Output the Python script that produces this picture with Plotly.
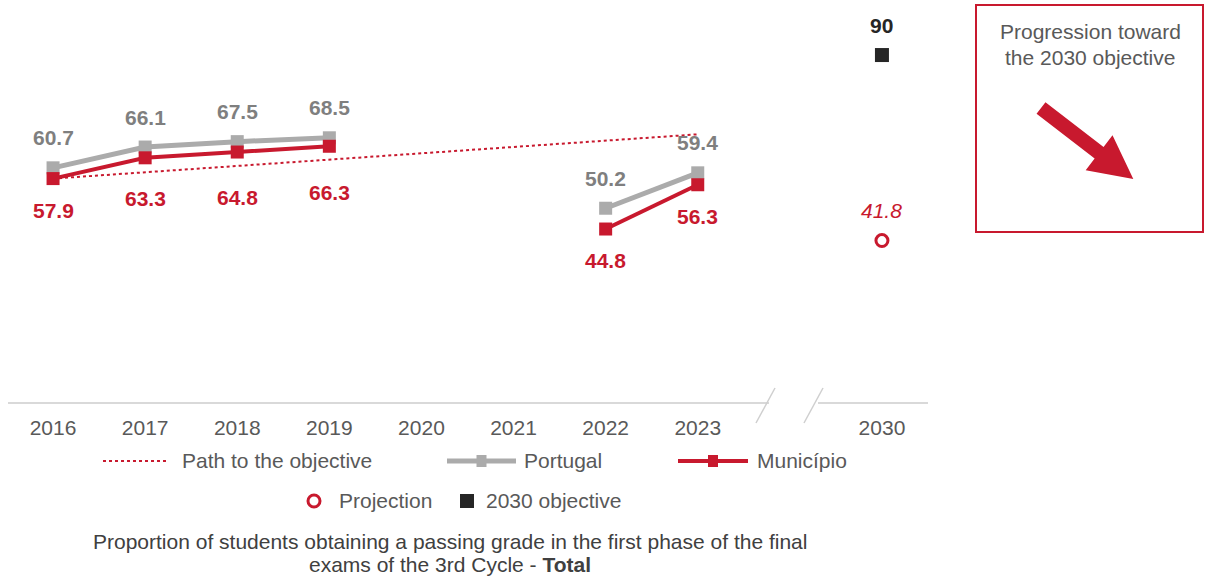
import math
import plotly.graph_objects as go

# ---------------- data ----------------
years = ["2016", "2017", "2018", "2019", "2020", "2021", "2022", "2023"]
x_categories = years + [" ", "2030"]
portugal = [60.7, 66.1, 67.5, 68.5, None, None, 50.2, 59.4]
municipio = [57.9, 63.3, 64.8, 66.3, None, None, 44.8, 56.3]
path_years = ["2016", "2023"]
path_values = [57.9, 69.4]
projection_year = ["2030"]
projection_value = [41.8]
objective_year = ["2030"]
objective_value = [90]

# label offsets (pixels, styling only)
municipio_label_shift = [-32, -41, -45, -46, None, None, -31, -32]

RED = "#C8192E"
GREY = "#ABABAB"
GREY_TXT = "#7F7F7F"
DARK = "#262626"
TXT = "#595959"
FONT = "Liberation Sans, Arial, sans-serif"
FS = 21

W, H = 1207, 580
L, R, T, B = 7, 279, 10, 177
PW, PH = W - L - R, H - T - B


def px(x):
    return (x - L) / PW


def py(y):
    return (H - B - y) / PH


def cat(yr):
    return x_categories.index(yr)


fig = go.Figure()

fig.add_trace(go.Scatter(
    x=path_years, y=path_values, mode="lines",
    line=dict(color=RED, width=2, dash="dot"), name="Path to the objective",
    showlegend=False, hoverinfo="skip"))
fig.add_trace(go.Scatter(
    x=years, y=portugal, mode="lines+markers", connectgaps=False,
    line=dict(color=GREY, width=5),
    marker=dict(symbol="square", size=13, color=GREY),
    name="Portugal", showlegend=False))
fig.add_trace(go.Scatter(
    x=years, y=municipio, mode="lines+markers", connectgaps=False,
    line=dict(color=RED, width=4),
    marker=dict(symbol="square", size=13, color=RED),
    name="Município", showlegend=False))
fig.add_trace(go.Scatter(
    x=projection_year, y=projection_value, mode="markers",
    marker=dict(symbol="circle-open", size=12, color=RED, line=dict(width=3)),
    name="Projection", showlegend=False))
fig.add_trace(go.Scatter(
    x=objective_year, y=objective_value, mode="markers",
    marker=dict(symbol="square", size=14, color=DARK),
    name="2030 objective", showlegend=False))

ann = []
for yr, v in zip(years, portugal):
    if v is None:
        continue
    ann.append(dict(x=cat(yr), y=v, xref="x", yref="y", text=f"{v:.1f}", showarrow=False,
                    yshift=30, font=dict(family=FONT, size=FS, color=GREY_TXT, weight="bold")))
for yr, v, s in zip(years, municipio, municipio_label_shift):
    if v is None:
        continue
    ann.append(dict(x=cat(yr), y=v, xref="x", yref="y", text=f"{v:.1f}", showarrow=False,
                    yshift=s, font=dict(family=FONT, size=FS, color=RED, weight="bold")))
for yr, v in zip(projection_year, projection_value):
    ann.append(dict(x=cat(yr), y=v, xref="x", yref="y", text=f"{v:.1f}", showarrow=False,
                    yshift=30, font=dict(family=FONT, size=FS, color=RED, style="italic")))
for yr, v in zip(objective_year, objective_value):
    ann.append(dict(x=cat(yr), y=v, xref="x", yref="y", text=f"{v}", showarrow=False,
                    yshift=30, font=dict(family=FONT, size=FS, color=DARK, weight="bold")))

shapes = []
AX = "#D9D9D9"
# axis line with break
shapes.append(dict(type="line", xref="paper", yref="paper", x0=px(8), x1=px(769),
                   y0=py(403), y1=py(403), line=dict(color=AX, width=2)))
shapes.append(dict(type="line", xref="paper", yref="paper", x0=px(818), x1=px(928),
                   y0=py(403), y1=py(403), line=dict(color=AX, width=2)))
for (a, b, c, d) in [(775, 388, 756, 423), (823, 388, 804, 423)]:
    shapes.append(dict(type="line", xref="paper", yref="paper", x0=px(a), y0=py(b),
                       x1=px(c), y1=py(d), line=dict(color="#CFCFCF", width=1.5)))

# ---- legend (drawn) ----
LEG_TXT = dict(family=FONT, size=FS, color=TXT)
y1 = 461
shapes.append(dict(type="line", xref="paper", yref="paper", x0=px(103), x1=px(167),
                   y0=py(y1), y1=py(y1), line=dict(color=RED, width=2, dash="dot")))
ann.append(dict(x=px(180), y=py(y1), xref="paper", yref="paper", xanchor="left", yanchor="middle",
                text="Path to the objective", showarrow=False, font=LEG_TXT))
for x0, x1, col, lw, label, tx in [(447, 516, GREY, 5, "Portugal", 522),
                                   (678, 748, RED, 4, "Município", 755)]:
    shapes.append(dict(type="line", xref="paper", yref="paper", x0=px(x0), x1=px(x1),
                       y0=py(y1), y1=py(y1), line=dict(color=col, width=lw)))
    cx = (x0 + x1) / 2
    shapes.append(dict(type="rect", xref="paper", yref="paper", x0=px(cx - 5), x1=px(cx + 5),
                       y0=py(y1 + 6), y1=py(y1 - 6), fillcolor=col, line=dict(width=0)))
    ann.append(dict(x=px(tx), y=py(y1), xref="paper", yref="paper", xanchor="left", yanchor="middle",
                    text=label, showarrow=False, font=LEG_TXT))
y2 = 501
shapes.append(dict(type="circle", xref="paper", yref="paper", x0=px(308), x1=px(320),
                   y0=py(y2 + 6), y1=py(y2 - 6), line=dict(color=RED, width=3)))
ann.append(dict(x=px(337), y=py(y2), xref="paper", yref="paper", xanchor="left", yanchor="middle",
                text="Projection", showarrow=False, font=LEG_TXT))
shapes.append(dict(type="rect", xref="paper", yref="paper", x0=px(460), x1=px(474),
                   y0=py(y2 + 7), y1=py(y2 - 7), fillcolor=DARK, line=dict(width=0)))
ann.append(dict(x=px(484), y=py(y2), xref="paper", yref="paper", xanchor="left", yanchor="middle",
                text="2030 objective", showarrow=False, font=LEG_TXT))

# ---- caption ----
CAP = dict(family=FONT, size=FS, color="#404040")
ann.append(dict(x=px(450), y=py(541), xref="paper", yref="paper", xanchor="center", yanchor="middle",
                text="Proportion of students obtaining a passing grade in the first phase of the final",
                showarrow=False, font=CAP))
ann.append(dict(x=px(450), y=py(564), xref="paper", yref="paper", xanchor="center", yanchor="middle",
                text="exams of the 3rd Cycle - <b>Total</b>", showarrow=False, font=CAP))

# ---- right box ----
shapes.append(dict(type="rect", xref="paper", yref="paper", x0=px(976), x1=px(1203),
                   y0=py(232), y1=py(5), line=dict(color=RED, width=2), fillcolor="rgba(0,0,0,0)"))
ann.append(dict(x=px(1090), y=py(32), xref="paper", yref="paper", xanchor="center", yanchor="middle",
                text="Progression toward", showarrow=False, font=LEG_TXT))
ann.append(dict(x=px(1090), y=py(58), xref="paper", yref="paper", xanchor="center", yanchor="middle",
                text="the 2030 objective", showarrow=False, font=LEG_TXT))
# arrow polygon
sx, sy = 1041.0, 108.0
tx_, ty_ = 1133.3, 179.0
dx, dy = tx_ - sx, ty_ - sy
ln = math.hypot(dx, dy)
ux, uy = dx / ln, dy / ln
nx, ny = -uy, ux
hw, hb, hh = 7.3, 73.3, 22.0
pts = [
    (sx + nx * hw, sy + ny * hw),
    (sx + ux * hb + nx * hw, sy + uy * hb + ny * hw),
    (sx + ux * hb + nx * hh, sy + uy * hb + ny * hh),
    (tx_, ty_),
    (sx + ux * hb - nx * hh, sy + uy * hb - ny * hh),
    (sx + ux * hb - nx * hw, sy + uy * hb - ny * hw),
    (sx - nx * hw, sy - ny * hw),
]
path = "M " + " L ".join(f"{px(a):.5f},{py(b):.5f}" for a, b in pts) + " Z"
shapes.append(dict(type="path", xref="paper", yref="paper", path=path, fillcolor=RED,
                   line=dict(width=0)))

fig.update_layout(
    width=W, height=H,
    margin=dict(l=L, r=R, t=T, b=B, pad=0),
    paper_bgcolor="white", plot_bgcolor="white",
    showlegend=False,
    font=dict(family=FONT, color=TXT),
    xaxis=dict(type="category", categoryorder="array", categoryarray=x_categories,
               range=[-0.5, 9.5], showgrid=False, zeroline=False, showline=False,
               ticks="", tickfont=dict(family=FONT, size=FS, color=TXT),
               ticklabelstandoff=10, fixedrange=True),
    yaxis=dict(range=[-0.4, 101.7], showgrid=False, zeroline=False, showline=False,
               showticklabels=False, ticks="", fixedrange=True),
    annotations=ann, shapes=shapes,
)

fig.write_html("out.html", config={"displayModeBar": False},
               post_script="document.body.style.margin='0px';document.body.style.overflow='hidden';")
